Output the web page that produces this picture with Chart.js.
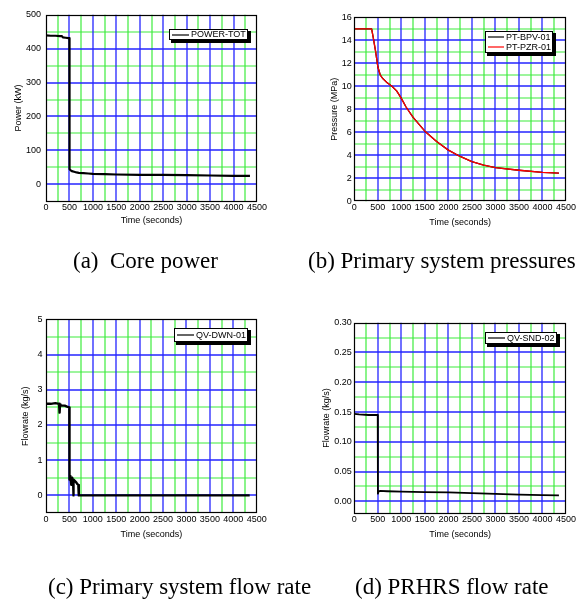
<!DOCTYPE html>
<html><head><meta charset="utf-8">
<script src="https://cdn.jsdelivr.net/npm/chart.js@4.4.1/dist/chart.umd.min.js"></script>
<style>
html,body{margin:0;padding:0;background:#fff;}
#wrap{position:relative;width:576px;height:600px;overflow:hidden;background:#fff;}
canvas{position:absolute;left:0;top:0;}
.cap{position:absolute;font-family:'Liberation Serif','Times New Roman',serif;font-size:23px;line-height:23px;white-space:pre;color:#000;}
</style></head><body>
<div id="wrap">
<canvas id="ca" width="576" height="600"></canvas>
<canvas id="cb" width="576" height="600"></canvas>
<canvas id="cc" width="576" height="600"></canvas>
<canvas id="cd" width="576" height="600"></canvas>
<div class="cap" style="left:73px;top:249px">(a)  Core power</div>
<div class="cap" style="left:308px;top:249px">(b) Primary system pressures</div>
<div class="cap" style="left:48px;top:575px">(c) Primary system flow rate</div>
<div class="cap" style="left:355px;top:575px">(d) PRHRS flow rate</div>
</div>
<script>
// ---- data ----
const xTicks = [0,500,1000,1500,2000,2500,3000,3500,4000,4500];

const timeA  = [0,100,200,300,340,360,420,480,498,502,520,550,600,650,700,800,900,1000,1250,1500,2000,2500,3000,3500,4000,4350];
const powerA = [439,438,438,437,437,433,432,431,431,45,42,39,37,35,34,33,32,31,30,29,28,28,27,26,25,25];
const yTicksA = [0,100,200,300,400,500];

const timeB   = [0,350,368,400,450,500,550,600,700,800,900,1000,1100,1250,1500,1750,2000,2250,2500,2750,3000,3500,4000,4350];
const bpvB    = [15.0,15.0,15.0,14.3,13.1,11.7,11.0,10.7,10.3,10.0,9.6,8.95,8.2,7.3,6.1,5.2,4.45,3.9,3.45,3.15,2.92,2.7,2.52,2.45];
const pzrB    = [15.0,15.0,15.0,14.3,13.1,11.7,11.0,10.7,10.3,10.0,9.6,8.95,8.2,7.3,6.1,5.2,4.45,3.9,3.45,3.15,2.92,2.7,2.52,2.45];
const yTicksB = [0,2,4,6,8,10,12,14,16];

const timeC  = [0,100,200,280,290,300,310,400,450,498,502,520,540,560,580,585,590,610,640,670,690,700,720,4350];
const flowC  = [2.6,2.6,2.62,2.6,2.35,2.58,2.55,2.55,2.52,2.5,0.45,0.55,0.3,0.5,0.35,0.0,0.45,0.42,0.38,0.32,0.3,0.0,0.0,0.0];
const yTicksC = [0,1,2,3,4,5];

const timeD  = [0,100,300,498,502,520,550,700,1000,1500,2000,2500,3000,3500,4000,4350];
const flowD  = [0.147,0.146,0.145,0.145,0.013,0.017,0.0175,0.017,0.0165,0.0155,0.015,0.014,0.0125,0.0115,0.0105,0.010];
const yTicksD = [0,0.05,0.10,0.15,0.20,0.25,0.30];

// ---- helpers ----
const FONT = "'Liberation Sans Narrow','Arial Narrow','Liberation Sans',Arial,sans-serif";
const BLUE = '#2424ff', GREEN = '#3cec3c';
const pts = (xs, ys) => xs.map((x,i)=>({x:x, y:ys[i]}));
function isMajor(v, majors){ return majors.some(m=>Math.abs(m-v)<1e-9); }
function buildTicks(min, max, majors){
  const half = (majors[1]-majors[0])/2;
  const vals = [];
  for (let i=0;i<majors.length;i++){ vals.push(majors[i]); if(i<majors.length-1) vals.push(majors[i]+half); }
  let v = majors[0]-half; while (v >= min - 1e-9){ vals.unshift(v); v -= half; }
  return vals.filter(v=>v<=max+1e-9).map(v=>({value:v}));
}

// grid drawn from the scales' own ticks (minor green, major blue)
const gridPlugin = {
  id:'colGrid',
  beforeDatasetsDraw(chart, args, opts){
    const ctx = chart.ctx, ca = chart.chartArea;
    const xs = chart.scales.x, ys = chart.scales.y;
    ctx.save();
    [false, true].forEach(major=>{
      ctx.strokeStyle = major ? BLUE : GREEN;
      ctx.lineWidth = major ? 1.3 : 1.2;
      xs.ticks.forEach(t=>{
        if (isMajor(t.value, xTicks) !== major) return;
        const px = Math.round(xs.getPixelForValue(t.value));
        if (px <= ca.left+1 || px >= ca.right-1) return;
        ctx.beginPath(); ctx.moveTo(px, ca.top); ctx.lineTo(px, ca.bottom); ctx.stroke();
      });
      ys.ticks.forEach(t=>{
        if (isMajor(t.value, opts.yMajors) !== major) return;
        const py = Math.round(ys.getPixelForValue(t.value));
        if (py <= ca.top+1 || py >= ca.bottom-1) return;
        ctx.beginPath(); ctx.moveTo(ca.left, py); ctx.lineTo(ca.right, py); ctx.stroke();
      });
    });
    ctx.restore();
  }
};

const framePlugin = {
  id:'boxLegend',
  afterDraw(chart, args, opts){
    const ctx = chart.ctx, ca = chart.chartArea;
    ctx.save();
    ctx.strokeStyle = '#000'; ctx.lineWidth = 1.2;
    ctx.strokeRect(Math.round(ca.left)+0.5, Math.round(ca.top)+0.5, Math.round(ca.right-ca.left)-1, Math.round(ca.bottom-ca.top)-1);
    if (opts && opts.show){
      ctx.font = '9px ' + FONT;
      const ds = chart.data.datasets;
      const tw = Math.max(...ds.map(d=>ctx.measureText(d.label).width));
      const lineLen = opts.lineLen, padL = 3, gap = 2, padR = 2, rowH = opts.rowH;
      const w = Math.round(padL+lineLen+gap+tw+padR);
      const h = Math.round(ds.length*rowH + opts.padV*2);
      const x = Math.round(ca.right - opts.insetR - w), y = Math.round(ca.top + opts.insetT);
      ctx.fillStyle = '#000'; ctx.fillRect(x+2, y+2, w+1, h+1);
      ctx.fillStyle = '#fff'; ctx.fillRect(x, y, w, h);
      ctx.strokeStyle = '#000'; ctx.lineWidth = 1; ctx.strokeRect(x+0.5, y+0.5, w-1, h-1);
      ds.forEach((d,i)=>{
        const cy = y + opts.padV + rowH*i + rowH/2;
        ctx.strokeStyle = d.borderColor; ctx.lineWidth = 1.2;
        ctx.beginPath(); ctx.moveTo(x+padL, Math.round(cy)); ctx.lineTo(x+padL+lineLen, Math.round(cy)); ctx.stroke();
        ctx.fillStyle = '#000'; ctx.textBaseline = 'middle'; ctx.textAlign = 'left';
        ctx.fillText(d.label, x+padL+lineLen+gap, cy+0.5);
      });
    }
    ctx.restore();
  }
};

function makePanel(id, cfg){
  const a = cfg.area;
  const L = cfg.yTitleX - 5.4;
  const Bpad = 600 - (cfg.xTitleY + 5.4);
  new Chart(document.getElementById(id), {
    type:'line',
    data:{datasets: cfg.datasets},
    options:{
      responsive:false, animation:false, events:[],
      layout:{padding:{left:L, top:a.t, right:576-a.r, bottom:Bpad}},
      elements:{point:{radius:0}, line:{tension:0, borderJoinStyle:'round'}},
      plugins:{legend:{display:false}, tooltip:{enabled:false}, boxLegend: cfg.legend, colGrid:{yMajors:cfg.yMajors}},
      scales:{
        x:{type:'linear', min:0, max:4500,
          afterBuildTicks: s=>{ s.ticks = buildTicks(0,4500,xTicks); },
          afterFit: s=>{ s.height = (600 - Bpad) - a.b; s.paddingLeft = 0; s.paddingRight = 0; },
          ticks:{autoSkip:false, maxRotation:0, padding:1, color:'#000', font:{family:FONT, size:9},
            callback: v => isMajor(v, xTicks) ? String(v) : ''},
          grid:{display:false, drawTicks:false},
          border:{display:false},
          title:{display:true, text:'Time (seconds)', color:'#000', font:{family:FONT, size:9}, padding:{top:0,bottom:0}}
        },
        y:{type:'linear', min:cfg.yMin, max:cfg.yMax,
          afterBuildTicks: s=>{ s.ticks = buildTicks(cfg.yMin, cfg.yMax, cfg.yMajors); },
          afterFit: s=>{ s.width = a.l - L; s.paddingTop = 0; s.paddingBottom = 0; },
          ticks:{autoSkip:false, padding:cfg.yPad, color:'#000', font:{family:FONT, size:9},
            callback: v => isMajor(v, cfg.yMajors) ? cfg.yFmt(v) : ''},
          grid:{display:false, drawTicks:false},
          border:{display:false},
          title:{display:true, text:cfg.yTitle, color:'#000', font:{family:FONT, size:9}, padding:{top:0,bottom:0}}
        }
      }
    },
    plugins:[gridPlugin, framePlugin]
  });
}

makePanel('ca', {
  area:{l:46, r:257, t:14.7, b:201.3}, yTitleX:19, xTitleY:221, yPad:5,
  yMin:-50, yMax:500, yMajors:yTicksA, yFmt: v=>String(v), yTitle:'Power (kW)',
  datasets:[{label:'POWER-TOT', data:pts(timeA, powerA), borderColor:'#000', borderWidth:2.2}],
  legend:{show:true, insetR:8.7, insetT:14.6, lineLen:17, rowH:10, padV:0.5}
});
makePanel('cb', {
  area:{l:354.3, r:566, t:17.3, b:201.3}, yTitleX:334.3, xTitleY:222.5, yPad:2.5,
  yMin:0, yMax:16, yMajors:yTicksB, yFmt: v=>String(v), yTitle:'Pressure (MPa)',
  datasets:[
    {label:'PT-BPV-01', data:pts(timeB, bpvB), borderColor:'#000', borderWidth:1.3, order:1},
    {label:'PT-PZR-01', data:pts(timeB, pzrB), borderColor:'#ff0000', borderWidth:1.3, order:0}
  ],
  legend:{show:true, insetR:12.7, insetT:13.7, lineLen:16, rowH:10.6, padV:0.5}
});
makePanel('cc', {
  area:{l:46, r:256.7, t:319.3, b:513}, yTitleX:25.3, xTitleY:535, yPad:3.5,
  yMin:-0.5, yMax:5, yMajors:yTicksC, yFmt: v=>String(Math.round(v)), yTitle:'Flowrate (kg/s)',
  datasets:[{label:'QV-DWN-01', data:pts(timeC, flowC), borderColor:'#000', borderWidth:2.4}],
  legend:{show:true, insetR:8.7, insetT:8.7, lineLen:17, rowH:12, padV:1}
});
makePanel('cd', {
  area:{l:354.3, r:566, t:322.7, b:513.3}, yTitleX:326.7, xTitleY:535, yPad:2.6,
  yMin:-0.02, yMax:0.30, yMajors:yTicksD, yFmt: v=>v.toFixed(2), yTitle:'Flowrate (kg/s)',
  datasets:[{label:'QV-SND-02', data:pts(timeD, flowD), borderColor:'#000', borderWidth:1.8}],
  legend:{show:true, insetR:9.3, insetT:9, lineLen:17, rowH:10.5, padV:0.5}
});
</script>
</body></html>
